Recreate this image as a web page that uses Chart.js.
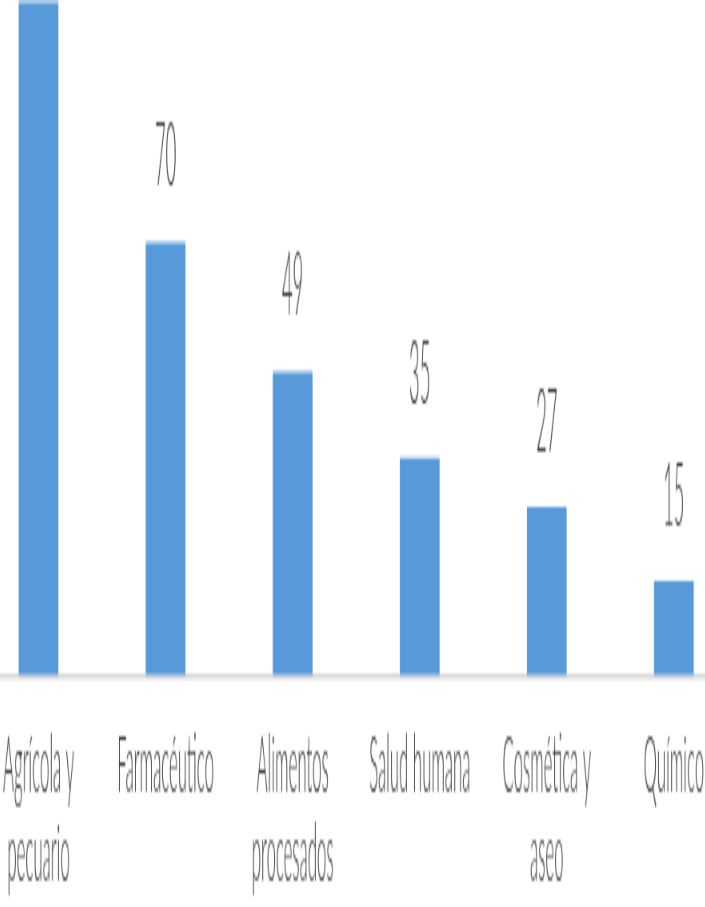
<!DOCTYPE html>
<html>
<head>
<meta charset="utf-8">
<script src="https://cdn.jsdelivr.net/npm/chart.js@4"></script>
<style>
  html, body { margin: 0; padding: 0; width: 705px; height: 907px; overflow: hidden; background: #fff; }
  #wrap { position: absolute; left: -25.5px; top: 0; transform: scale(0.8, 3.7); transform-origin: 0 0; }
</style>
</head>
<body>
<div id="wrap"><canvas id="c" width="953" height="245"></canvas></div>
<script>
const categories = [["Agrícola y", "pecuario"], "Farmacéutico", ["Alimentos", "procesados"], "Salud humana", ["Cosmética y", "aseo"], "Químico"];
const values = [109, 70, 49, 35, 27, 15];

const FONT = 'Lato, "Liberation Sans", sans-serif';
const TEXT = '#404040';

const valueLabels = {
  id: 'valueLabels',
  afterDatasetsDraw(chart) {
    const ctx = chart.ctx;
    const meta = chart.getDatasetMeta(0);
    ctx.save();
    ctx.font = '300 23px ' + FONT;
    ctx.fillStyle = TEXT;
    ctx.textAlign = 'center';
    ctx.textBaseline = 'alphabetic';
    meta.data.forEach((bar, i) => {
      ctx.fillText(String(values[i]), bar.x, bar.y - 15.5);
    });
    ctx.restore();
  }
};

new Chart(document.getElementById('c'), {
  type: 'bar',
  data: {
    labels: categories,
    datasets: [{
      data: values,
      backgroundColor: '#5799d9',
      borderWidth: 0,
      barThickness: 49
    }]
  },
  options: {
    responsive: false,
    animation: false,
    layout: { padding: 0 },
    plugins: { legend: { display: false }, tooltip: { enabled: false } },
    scales: {
      x: {
        grid: { display: true, color: 'rgba(0,0,0,0)', drawTicks: false },
        border: { display: true, color: '#d9d9d9', width: 1.5 },
        ticks: {
          padding: 13,
          color: TEXT,
          font: { family: FONT, size: 21, weight: 300, lineHeight: 1.15 },
          maxRotation: 0,
          autoSkip: false
        },
        afterFit(scale) { scale.height = 62.6; }
      },
      y: {
        display: false,
        min: 0,
        max: 109.5
      }
    }
  },
  plugins: [valueLabels]
});
</script>
</body>
</html>
